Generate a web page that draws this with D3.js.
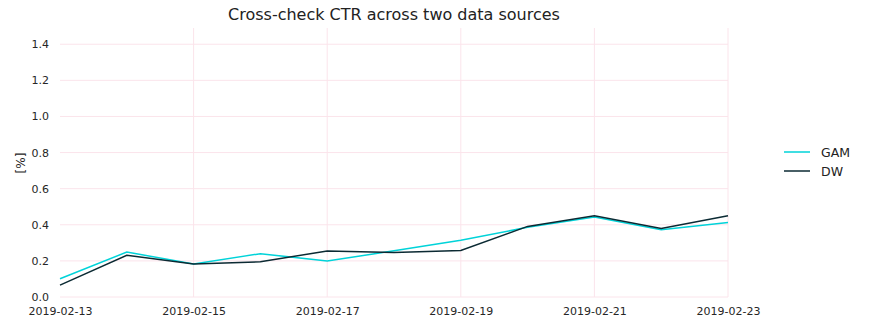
<!DOCTYPE html>
<html><head><meta charset="utf-8">
<script src="https://cdn.jsdelivr.net/npm/d3@7"></script>
<style>body{margin:0;background:#fff}svg{display:block;font-family:"DejaVu Sans",sans-serif}</style>
</head><body><svg id="c" width="875" height="332"></svg>
<script>
const dates = ["2019-02-13","2019-02-14","2019-02-15","2019-02-16","2019-02-17","2019-02-18","2019-02-19","2019-02-20","2019-02-21","2019-02-22","2019-02-23"];
const gam = [0.101,0.249,0.183,0.240,0.199,0.256,0.314,0.386,0.443,0.372,0.413];
const dw  = [0.066,0.231,0.183,0.195,0.255,0.247,0.258,0.391,0.450,0.380,0.450];
const seriesNames = ["GAM","DW"];
const seriesColors = ["#00d3d9","#0b2a33"];
const yTicks = [0,0.2,0.4,0.6,0.8,1.0,1.2,1.4];
const xTickLabels = ["2019-02-13","2019-02-15","2019-02-17","2019-02-19","2019-02-21","2019-02-23"];

const parse = d3.utcParse("%Y-%m-%d");
const svg = d3.select("#c");
const m = {l:60, r:147, t:28, b:35};
const W = 875, H = 332;
const x = d3.scaleUtc().domain([parse(dates[0]), parse(dates[dates.length-1])]).range([m.l, W-m.r]);
const y = d3.scaleLinear().domain([0,1.49]).range([297, m.t]);
const grid = "#fbe4eb";

svg.append("g").selectAll("line").data(yTicks).join("line")
  .attr("x1", m.l).attr("x2", W-m.r).attr("y1", d=>y(d)).attr("y2", d=>y(d))
  .attr("stroke", grid).attr("stroke-width", 1);
svg.append("g").selectAll("line").data(xTickLabels.slice(1)).join("line")
  .attr("x1", d=>x(parse(d))).attr("x2", d=>x(parse(d))).attr("y1", y(0)).attr("y2", m.t)
  .attr("stroke", grid).attr("stroke-width", 1);

const ya = svg.append("g").attr("transform",`translate(${m.l-11},0)`)
  .call(d3.axisLeft(y).tickValues(yTicks).tickFormat(d3.format(".1f")).tickSize(0).tickPadding(0));
ya.select(".domain").remove();
ya.selectAll("text").attr("font-size", 11).attr("fill", "#262626").attr("font-family","DejaVu Sans");

const xa = svg.append("g").attr("transform",`translate(0,${y(0)+5})`)
  .call(d3.axisBottom(x).tickValues(xTickLabels.map(parse)).tickFormat(d3.utcFormat("%Y-%m-%d")).tickSize(0).tickPadding(5));
xa.select(".domain").remove();
xa.selectAll("text").attr("font-size", 11).attr("fill", "#262626").attr("font-family","DejaVu Sans");

const line = d3.line().x((d,i)=>x(parse(dates[i]))).y(d=>y(d));
[gam, dw].forEach((s,i)=>{
  svg.append("path").datum(s).attr("d", line).attr("fill","none")
    .attr("stroke", seriesColors[i]).attr("stroke-width", 1.5);
});

svg.append("text").attr("x", 394).attr("y", 20).attr("text-anchor","middle")
  .attr("font-size", 16).attr("fill", "#222").text("Cross-check CTR across two data sources");
svg.append("text").attr("transform","translate(25,163) rotate(-90)").attr("text-anchor","middle")
  .attr("font-size", 12).attr("fill","#262626").text("[%]");

const lg = svg.append("g");
seriesNames.forEach((n,i)=>{
  const yy = 152 + i*19;
  lg.append("line").attr("x1",784).attr("x2",810).attr("y1",yy).attr("y2",yy)
    .attr("stroke", seriesColors[i]).attr("stroke-width",1.5);
  lg.append("text").attr("x",821).attr("y",yy+5).attr("font-size",12.5).attr("fill","#222").text(n);
});
</script></body></html>
